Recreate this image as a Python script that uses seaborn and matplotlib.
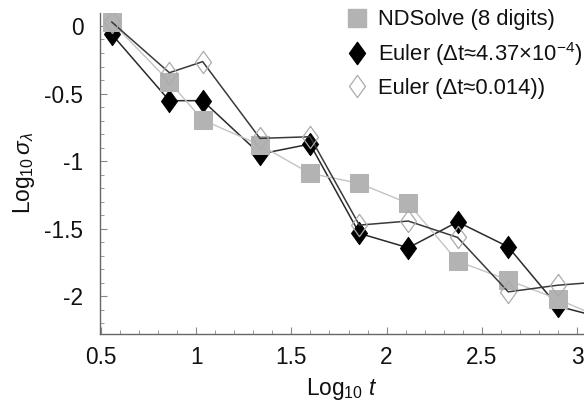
import numpy as np
import pandas as pd
import matplotlib
matplotlib.use("Agg")
import matplotlib.pyplot as plt
import seaborn as sns
from matplotlib.path import Path
from matplotlib.lines import Line2D
from matplotlib.ticker import MultipleLocator

# data (log10 t, log10 sigma)
log_t = [0.556, 0.859, 1.034, 1.335, 1.598, 1.857, 2.114, 2.373, 2.639, 2.899, 3.16]
nd_solve = [0.03, -0.413, -0.696, -0.881, -1.091, -1.165, -1.313, -1.741, -1.881, -2.022, -2.18]
euler_fine = [-0.06, -0.553, -0.553, -0.948, -0.874, -1.535, -1.642, -1.45, -1.635, -2.074, -2.17]
euler_coarse = [0.03, -0.346, -0.264, -0.832, -0.82, -1.474, -1.444, -1.565, -1.968, -1.919, -1.89]

labels = ["NDSolve (8 digits)",
          "Euler (\u0394t\u22484.37\u00d710$^{\\mathregular{-4}}$)",
          "Euler (\u0394t\u22480.014))"]

df = pd.DataFrame({"log_t": log_t, "nd": nd_solve, "fine": euler_fine, "coarse": euler_coarse})

sns.set_theme(style="ticks")
plt.rcParams["font.family"] = ["Liberation Sans", "DejaVu Sans"]
plt.rcParams["mathtext.fontset"] = "custom"
plt.rcParams["mathtext.rm"] = "Liberation Sans"
plt.rcParams["mathtext.it"] = "Liberation Sans:italic"
plt.rcParams["axes.unicode_minus"] = False

# tall diamond like the original
diamond = Path([(0, 1), (0.72, 0), (0, -1), (-0.72, 0), (0, 1)],
               [Path.MOVETO, Path.LINETO, Path.LINETO, Path.LINETO, Path.CLOSEPOLY])

fig = plt.figure(figsize=(5.84, 4.07), dpi=100)
ax = fig.add_axes([100 / 584, 73 / 407, 484 / 584, 321 / 407])

sq_color = "#b3b3b3"
sns.lineplot(data=df, x="log_t", y="fine", ax=ax, sort=False, color="#2a2a2a", lw=1.1,
             marker=diamond, markersize=16, markerfacecolor="black", markeredgecolor="black",
             zorder=3)
sns.lineplot(data=df, x="log_t", y="nd", ax=ax, sort=False, color="#c4c4c4", lw=1.0,
             marker="s", markersize=13.5, markerfacecolor=sq_color, markeredgecolor=sq_color,
             zorder=4)
sns.lineplot(data=df, x="log_t", y="coarse", ax=ax, sort=False, color="#3a3a3a", lw=1.1,
             marker=diamond, markersize=16, markerfacecolor="none", markeredgecolor="#ababab",
             markeredgewidth=0.9, zorder=5)

ax.set_xlim(0.4947, 3.037)
ax.set_ylim(-2.28, 0.096)
ax.xaxis.set_major_locator(MultipleLocator(0.5))
ax.xaxis.set_minor_locator(MultipleLocator(0.1))
ax.yaxis.set_major_locator(MultipleLocator(0.5))
ax.yaxis.set_minor_locator(MultipleLocator(0.1))
ax.xaxis.set_major_formatter(plt.FuncFormatter(lambda v, p: f"{v:g}"))
ax.yaxis.set_major_formatter(plt.FuncFormatter(lambda v, p: f"{v:g}"))

sns.despine(ax=ax)
for s in ["left", "bottom"]:
    ax.spines[s].set_color("#666666")
    ax.spines[s].set_linewidth(1.0)
ax.tick_params(which="both", direction="in", color="#888888", labelsize=16.3, labelcolor="#111111")
ax.tick_params(which="major", length=5, width=0.8)
ax.tick_params(which="minor", length=3, width=0.6)
ax.tick_params(axis="y", pad=12)
ax.tick_params(axis="x", pad=9)

ax.set_xlabel("Log$_{10}$ $t$", fontsize=16.3, color="#111111", labelpad=5)
ax.set_ylabel("Log$_{10}\\,\\sigma_{\\lambda}$", fontsize=16.3, color="#111111", labelpad=5)

handles = [
    Line2D([], [], ls="none", marker="s", markersize=13.5, markerfacecolor=sq_color, markeredgecolor=sq_color),
    Line2D([], [], ls="none", marker=diamond, markersize=16, markerfacecolor="black", markeredgecolor="black"),
    Line2D([], [], ls="none", marker=diamond, markersize=16, markerfacecolor="white", markeredgecolor="#ababab",
           markeredgewidth=0.9),
]
leg = ax.legend(handles, labels, loc="upper left", bbox_to_anchor=(344 / 584, 1 - 7 / 407),
                bbox_transform=fig.transFigure,
                frameon=False, fontsize=15.8, handlelength=1.0, handletextpad=0.45, labelspacing=0.45,
                borderaxespad=0.0, borderpad=0.1)
for t in leg.get_texts():
    t.set_color("#111111")

fig.savefig("out.png", dpi=100)
